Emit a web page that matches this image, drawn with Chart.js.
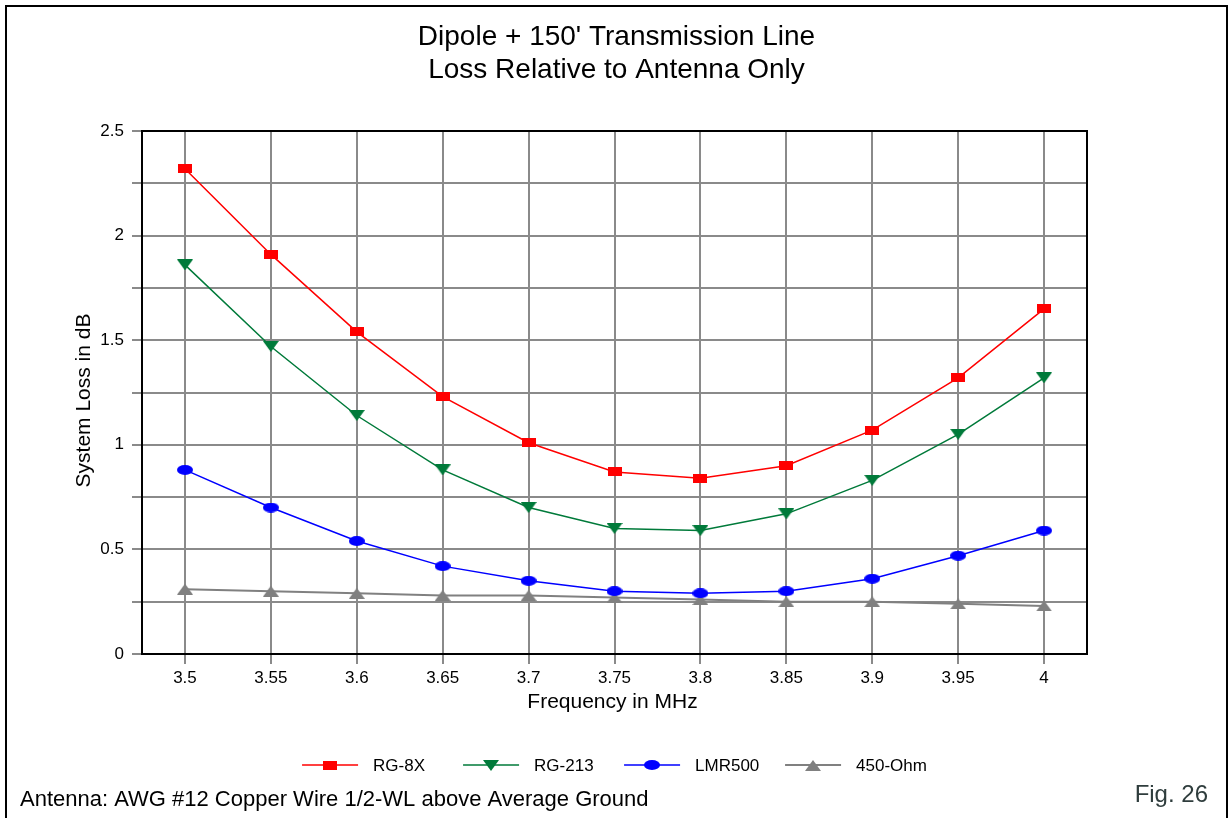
<!DOCTYPE html>
<html>
<head>
<meta charset="utf-8">
<script src="https://cdn.jsdelivr.net/npm/chart.js@4.4.1/dist/chart.umd.min.js"></script>
<style>
  html, body { margin: 0; padding: 0; background: #fff; overflow: hidden; }
  #wrap { width: 1231px; height: 818px; position: relative; }
</style>
</head>
<body>
<div id="wrap"><canvas id="c" width="1231" height="818"></canvas></div>
<script>
// Frequencies (MHz) along the x axis
const frequencies = ['3.5', '3.55', '3.6', '3.65', '3.7', '3.75', '3.8', '3.85', '3.9', '3.95', '4'];

// System loss in dB for each feed line
const rg8x   = [2.32, 1.91, 1.54, 1.23, 1.01, 0.87, 0.84, 0.90, 1.07, 1.32, 1.65];
const rg213  = [1.86, 1.47, 1.14, 0.88, 0.70, 0.60, 0.59, 0.67, 0.83, 1.05, 1.32];
const lmr500 = [0.88, 0.70, 0.54, 0.42, 0.35, 0.30, 0.29, 0.30, 0.36, 0.47, 0.59];
const ohm450 = [0.31, 0.30, 0.29, 0.28, 0.28, 0.27, 0.26, 0.25, 0.25, 0.24, 0.23];

const seriesNames = ['RG-8X', 'RG-213', 'LMR500', '450-Ohm'];
const titleLines = ["Dipole + 150' Transmission Line", 'Loss Relative to Antenna Only'];
const yAxisTitle = 'System Loss in dB';
const xAxisTitle = 'Frequency in MHz';
const footNote = 'Antenna: AWG #12 Copper Wire 1/2-WL above Average Ground';
const figLabel = 'Fig. 26';

const FONT = "'Liberation Sans', Arial, sans-serif";

// Small bitmap markers (slightly wider than tall)
function makeMarker(shape, color, w, h) {
  const c = document.createElement('canvas');
  c.width = w; c.height = h;
  const g = c.getContext('2d');
  g.fillStyle = color;
  g.beginPath();
  if (shape === 'rect') {
    g.rect(0, 0, w, h);
  } else if (shape === 'down') {
    g.moveTo(0, 0); g.lineTo(w, 0); g.lineTo(w / 2, h); g.closePath();
  } else if (shape === 'up') {
    g.moveTo(w / 2, 0); g.lineTo(w, h); g.lineTo(0, h); g.closePath();
  } else {
    g.ellipse(w / 2, h / 2, w / 2, h / 2, 0, 0, Math.PI * 2);
  }
  g.fill();
  return c;
}

const styles = [
  { color: '#ff0000', marker: makeMarker('rect', '#ff0000', 14, 9), width: 1.5 },
  { color: '#007a3a', marker: makeMarker('down', '#007a3a', 16, 11), width: 1.5 },
  { color: '#0000ff', marker: makeMarker('ellipse', '#0000ff', 16, 10), width: 1.5 },
  { color: '#808080', marker: makeMarker('up', '#808080', 16, 11), width: 2 }
];

const seriesValues = [rg8x, rg213, lmr500, ohm450];

const datasets = seriesValues.map((vals, i) => ({
  label: seriesNames[i],
  data: vals,
  borderColor: styles[i].color,
  backgroundColor: styles[i].color,
  borderWidth: styles[i].width,
  pointStyle: styles[i].marker,
  pointRadius: 7,
  tension: 0,
  fill: false
}));

// Plot area placement inside the 1231x818 canvas
const PLOT = { left: 142, top: 131, right: 1087, bottom: 654 };

const decorations = {
  id: 'decorations',
  beforeDatasetsDraw(chart) {
    const { ctx, chartArea: a } = chart;
    ctx.save();
    ctx.strokeStyle = '#000';
    ctx.lineWidth = 2;
    ctx.strokeRect(a.left, a.top, a.right - a.left, a.bottom - a.top);
    ctx.restore();
  },
  afterDraw(chart) {
    const { ctx, chartArea: a } = chart;
    const cx = (a.left + a.right) / 2;
    ctx.save();

    // outer frame (left, top, right)
    ctx.strokeStyle = '#000';
    ctx.lineWidth = 2;
    ctx.beginPath();
    ctx.moveTo(6, 820); ctx.lineTo(6, 6); ctx.lineTo(1227, 6); ctx.lineTo(1227, 820);
    ctx.stroke();

    // title
    ctx.fillStyle = '#000';
    ctx.textAlign = 'center';
    ctx.textBaseline = 'middle';
    ctx.font = '28px ' + FONT;
    ctx.fillText(titleLines[0], cx + 2, 37);
    ctx.fillText(titleLines[1], cx + 2, 70);

    // axis titles
    ctx.font = '21px ' + FONT;
    ctx.fillText(xAxisTitle, cx - 2, a.bottom + 48);
    ctx.save();
    ctx.translate(84, (a.top + a.bottom) / 2 + 8);
    ctx.rotate(-Math.PI / 2);
    ctx.fillText(yAxisTitle, 0, 0);
    ctx.restore();

    // legend: line + marker + label per series
    const pitch = 161, lineLen = 56, gap = 15;
    const lastW = (() => { ctx.font = '17px ' + FONT; return ctx.measureText(seriesNames[3]).width; })();
    const total = pitch * 3 + lineLen + gap + lastW;
    let x = cx - total / 2;
    const ly = 765;
    ctx.font = '17px ' + FONT;
    ctx.textAlign = 'left';
    seriesNames.forEach((name, i) => {
      const s = styles[i];
      ctx.strokeStyle = s.color;
      ctx.lineWidth = s.width;
      ctx.beginPath();
      ctx.moveTo(x, ly); ctx.lineTo(x + lineLen, ly);
      ctx.stroke();
      const m = s.marker;
      ctx.drawImage(m, Math.round(x + lineLen / 2 - m.width / 2), Math.round(ly - m.height / 2));
      ctx.fillStyle = '#000';
      ctx.fillText(name, x + lineLen + gap, ly + 1);
      x += pitch;
    });

    // footnote and figure label
    ctx.font = '22px ' + FONT;
    ctx.fillStyle = '#000';
    ctx.textAlign = 'left';
    ctx.fillText(footNote, 20, 800);
    ctx.font = '24px ' + FONT;
    ctx.fillStyle = '#2f3d3d';
    ctx.textAlign = 'right';
    ctx.fillText(figLabel, 1208, 795);

    ctx.restore();
  }
};

new Chart(document.getElementById('c'), {
  type: 'line',
  data: { labels: frequencies, datasets },
  options: {
    responsive: false,
    animation: false,
    devicePixelRatio: 1,
    layout: { padding: { left: 0, top: PLOT.top, right: 1231 - PLOT.right, bottom: 0 } },
    plugins: { legend: { display: false }, title: { display: false }, tooltip: { enabled: false } },
    scales: {
      x: {
        type: 'category',
        offset: true,
        afterFit(scale) { scale.height = 818 - PLOT.bottom; },
        grid: { offset: false, color: '#8a8a8a', lineWidth: 2, tickLength: 10, tickColor: '#8a8a8a', drawOnChartArea: true },
        border: { color: '#000', width: 2 },
        ticks: { autoSkip: false, maxRotation: 0, color: '#000', padding: 4, font: { family: FONT, size: 17 } }
      },
      y: {
        min: 0,
        max: 2.5,
        afterFit(scale) { scale.width = PLOT.left; },
        grid: { color: '#8a8a8a', lineWidth: 2, tickLength: 10, tickColor: '#8a8a8a' },
        border: { color: '#000', width: 2 },
        ticks: {
          stepSize: 0.25,
          color: '#000',
          padding: 8,
          font: { family: FONT, size: 17 },
          callback: (v) => (v % 0.5 === 0 ? String(v) : '')
        }
      }
    }
  },
  plugins: [decorations]
});
</script>
</body>
</html>
